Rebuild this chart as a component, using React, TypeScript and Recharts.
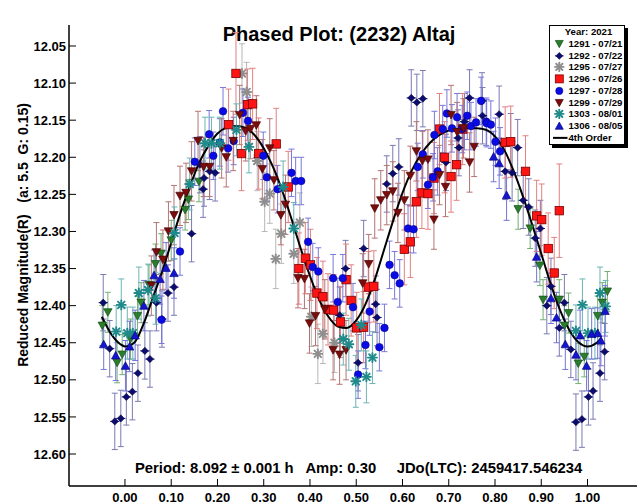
import React from 'react';
import { ComposedChart, Scatter, Line, XAxis, YAxis, ErrorBar, Legend, Customized } from 'recharts';

type P = [number, number, number?];

const FONT = '"Liberation Sans", Arial, Helvetica, sans-serif';

const X_DOMAIN: [number, number] = [-0.121, 1.107];
const Y_DOMAIN: [number, number] = [12.0217, 12.6431];
const X_TICKS = [0, 0.1, 0.2, 0.3, 0.4, 0.5, 0.6, 0.7, 0.8, 0.9, 1.0];
const Y_TICKS = [12.05, 12.1, 12.15, 12.2, 12.25, 12.3, 12.35, 12.4, 12.45, 12.5, 12.55, 12.6];

const TITLE = 'Phased Plot: (2232) Altaj';
const Y_LABEL = 'Reduced Magnitude(R)   (a: 5.5  G: 0.15)';
const INFO = 'Period: 8.092 \u00b1 0.001 h   Amp: 0.30     JDo(LTC): 2459417.546234';
const LEGEND_TITLE = 'Year: 2021';
const FIT_LABEL = '4th Order';

// 1291 - 07/21 (green, down triangle)
const PTS_1291: P[] = [
  [-0.049, 12.427], [-0.037, 12.409], [-0.017, 12.477], [-0.006, 12.466], [0.012, 12.445],
  [0.027, 12.414], [0.035, 12.396], [0.052, 12.372], [0.066, 12.344], [0.078, 12.33],
  [0.1, 12.312], [0.13, 12.271], [0.137, 12.257], [0.16, 12.233],
  [0.85, 12.27], [0.876, 12.296], [0.897, 12.346], [0.904, 12.392], [0.939, 12.392],
  [0.95, 12.427], [0.959, 12.41], [0.98, 12.478], [0.993, 12.469], [1.022, 12.414],
  [1.032, 12.396], [1.043, 12.381],
];

// 1292 - 07/22 (navy, diamond)
const PTS_1292: P[] = [
  [-0.047, 12.396], [-0.033, 12.458], [-0.022, 12.556], [-0.009, 12.552], [0.003, 12.523],
  [0.016, 12.516], [0.028, 12.491], [0.043, 12.461], [0.054, 12.472], [0.068, 12.396],
  [0.08, 12.418], [0.093, 12.383], [0.106, 12.375], [0.144, 12.303], [0.162, 12.21],
  [0.169, 12.243], [0.171, 12.228], [0.183, 12.219], [0.195, 12.221],
  [0.464, 12.413], [0.477, 12.35], [0.504, 12.477], [0.516, 12.323], [0.542, 12.398], [0.545, 12.416],
  [0.566, 12.236], [0.579, 12.222], [0.592, 12.213], [0.619, 12.12], [0.631, 12.126],
  [0.644, 12.121], [0.694, 12.207], [0.72, 12.174], [0.722, 12.187], [0.734, 12.152],
  [0.745, 12.12], [0.772, 12.124], [0.773, 12.144], [0.809, 12.142], [0.822, 12.219],
  [0.834, 12.179], [0.837, 12.221], [0.849, 12.187], [0.861, 12.258], [0.873, 12.267],
  [0.887, 12.309], [0.898, 12.296], [0.912, 12.4], [0.921, 12.374], [0.939, 12.43],
  [0.95, 12.396], [0.964, 12.459], [0.975, 12.557], [0.988, 12.553], [1.002, 12.523],
  [1.012, 12.515], [1.027, 12.491], [1.037, 12.462],
];

// 1295 - 07/27 (gray, asterisk)
const PTS_1295: P[] = [
  [0.253, 12.087], [0.263, 12.112], [0.286, 12.205], [0.302, 12.26], [0.313, 12.249],
  [0.326, 12.337], [0.338, 12.303], [0.365, 12.33], [0.378, 12.288], [0.403, 12.415],
  [0.417, 12.465], [0.428, 12.438], [0.453, 12.45],
];

// 1296 - 07/26 (red, square)
const PTS_1296: P[] = [
  [0.224, 12.156], [0.24, 12.087, 0.055], [0.252, 12.195, 0.05], [0.265, 12.129], [0.276, 12.128],
  [0.289, 12.195], [0.327, 12.182], [0.353, 12.24], [0.376, 12.35], [0.39, 12.336],
  [0.401, 12.345], [0.415, 12.383], [0.428, 12.388], [0.439, 12.405], [0.451, 12.406],
  [0.466, 12.422], [0.478, 12.365], [0.489, 12.393], [0.501, 12.43], [0.516, 12.429],
  [0.526, 12.375], [0.538, 12.374], [0.604, 12.324], [0.617, 12.314], [0.63, 12.26],
  [0.642, 12.248], [0.655, 12.249], [0.668, 12.228], [0.68, 12.162], [0.691, 12.2],
  [0.705, 12.226], [0.717, 12.21], [0.73, 12.162], [0.822, 12.18], [0.834, 12.179],
  [0.866, 12.219], [0.89, 12.279], [0.901, 12.284], [0.915, 12.323], [0.928, 12.356],
  [0.939, 12.272, 0.063],
];

// 1297 - 07/28 (blue, circle)
const PTS_1297: P[] = [
  [0.079, 12.419], [0.119, 12.327], [0.151, 12.206], [0.182, 12.169], [0.191, 12.198],
  [0.205, 12.18], [0.212, 12.138], [0.223, 12.188], [0.235, 12.178], [0.255, 12.14],
  [0.266, 12.151], [0.299, 12.198], [0.307, 12.227], [0.33, 12.243], [0.36, 12.221],
  [0.369, 12.232], [0.381, 12.232], [0.396, 12.314], [0.406, 12.348], [0.418, 12.354],
  [0.45, 12.363], [0.46, 12.395], [0.471, 12.363], [0.493, 12.402], [0.504, 12.493],
  [0.52, 12.453], [0.529, 12.408], [0.55, 12.456], [0.561, 12.43], [0.572, 12.345],
  [0.583, 12.359], [0.594, 12.37], [0.612, 12.296], [0.624, 12.297], [0.633, 12.213],
  [0.644, 12.196], [0.655, 12.237], [0.666, 12.227], [0.669, 12.17], [0.676, 12.219],
  [0.687, 12.162], [0.696, 12.141], [0.707, 12.161], [0.718, 12.146], [0.729, 12.162],
  [0.74, 12.144], [0.748, 12.158], [0.759, 12.153], [0.77, 12.124], [0.781, 12.152],
  [0.782, 12.154], [0.791, 12.156], [0.801, 12.179], [0.811, 12.192],
];

// 1299 - 07/29 (maroon, down triangle)
const PTS_1299: P[] = [
  [0.057, 12.373], [0.068, 12.328], [0.082, 12.338], [0.094, 12.3], [0.106, 12.278],
  [0.119, 12.252], [0.132, 12.248], [0.144, 12.219], [0.158, 12.178], [0.17, 12.213],
  [0.183, 12.213], [0.209, 12.188], [0.219, 12.2], [0.234, 12.178], [0.248, 12.143],
  [0.261, 12.165], [0.271, 12.162], [0.284, 12.157], [0.297, 12.216], [0.313, 12.188],
  [0.322, 12.231], [0.337, 12.278], [0.347, 12.264], [0.374, 12.363], [0.388, 12.364],
  [0.399, 12.424], [0.412, 12.414], [0.432, 12.405], [0.45, 12.46], [0.464, 12.466],
  [0.478, 12.46], [0.514, 12.37], [0.527, 12.344], [0.54, 12.269], [0.553, 12.258],
  [0.566, 12.251], [0.579, 12.246], [0.59, 12.275], [0.604, 12.258], [0.617, 12.225],
  [0.63, 12.192], [0.643, 12.205], [0.655, 12.203], [0.668, 12.284], [0.68, 12.224],
  [0.693, 12.24], [0.705, 12.143], [0.718, 12.166], [0.732, 12.161], [0.745, 12.207],
  [0.755, 12.186],
];

// 1303 - 08/01 (teal, asterisk)
const PTS_1303: P[] = [
  [-0.019, 12.435], [-0.008, 12.399], [0.005, 12.437], [0.017, 12.437], [0.03, 12.383],
  [0.05, 12.379], [0.066, 12.39], [0.107, 12.302], [0.14, 12.236], [0.173, 12.181],
  [0.187, 12.181], [0.205, 12.181], [0.241, 12.163], [0.268, 12.186], [0.342, 12.24],
  [0.365, 12.296], [0.472, 12.445], [0.484, 12.452], [0.499, 12.502], [0.511, 12.426],
  [0.522, 12.496], [0.535, 12.47], [0.975, 12.434], [0.989, 12.399], [1.001, 12.437],
  [1.016, 12.437], [1.027, 12.383], [1.039, 12.401],
];

// 1306 - 08/05 (blue, up triangle)
const PTS_1306: P[] = [
  [-0.046, 12.452], [-0.02, 12.467], [0.001, 12.481], [0.01, 12.455], [0.022, 12.44],
  [0.041, 12.4], [0.063, 12.359], [0.076, 12.364], [0.089, 12.349], [0.106, 12.356],
  [0.797, 12.199], [0.809, 12.208], [0.825, 12.251], [0.89, 12.334], [0.921, 12.39],
  [0.933, 12.416], [0.952, 12.452], [0.975, 12.466], [0.984, 12.44], [0.998, 12.481],
  [1.009, 12.438], [1.022, 12.437], [1.029, 12.447], [1.038, 12.407],
];

// 4th order Fourier fit
const FIT: [number, number][] = [
  [-0.05, 12.415], [-0.03, 12.438], [-0.01, 12.452], [0.0, 12.455], [0.02, 12.45],
  [0.04, 12.425], [0.06, 12.39], [0.08, 12.355], [0.1, 12.315], [0.12, 12.275],
  [0.14, 12.24], [0.16, 12.208], [0.18, 12.185], [0.2, 12.168], [0.22, 12.16],
  [0.24, 12.158], [0.26, 12.16], [0.28, 12.17], [0.3, 12.188], [0.32, 12.213],
  [0.34, 12.245], [0.36, 12.283], [0.38, 12.323], [0.4, 12.36], [0.42, 12.392],
  [0.44, 12.415], [0.46, 12.428], [0.48, 12.43], [0.5, 12.42], [0.52, 12.398],
  [0.54, 12.365], [0.56, 12.325], [0.58, 12.285], [0.6, 12.248], [0.62, 12.218],
  [0.64, 12.196], [0.66, 12.18], [0.68, 12.17], [0.7, 12.164], [0.72, 12.162],
  [0.74, 12.161], [0.76, 12.161], [0.78, 12.163], [0.8, 12.172], [0.82, 12.19],
  [0.84, 12.218], [0.86, 12.252], [0.88, 12.29], [0.9, 12.33], [0.92, 12.37],
  [0.94, 12.405], [0.96, 12.432], [0.98, 12.449], [1.0, 12.455], [1.02, 12.45],
  [1.03, 12.444],
];

type Kind = 'down' | 'up' | 'diamond' | 'square' | 'circle' | 'star';

const SERIES: { label: string; pts: P[]; err: number; kind: Kind; fill: string; stroke: string; bar: string }[] = [
  { label: '1291 - 07/21', pts: PTS_1291, err: 0.027, kind: 'down', fill: '#2a7d2a', stroke: '#14501a', bar: '#74b074' },
  { label: '1292 - 07/22', pts: PTS_1292, err: 0.038, kind: 'diamond', fill: '#0c0c70', stroke: '#05053a', bar: '#7a7ab4' },
  { label: '1295 - 07/27', pts: PTS_1295, err: 0.04, kind: 'star', fill: '#8e8e8e', stroke: '#8e8e8e', bar: '#b8b8b8' },
  { label: '1296 - 07/26', pts: PTS_1296, err: 0.048, kind: 'square', fill: '#ff1414', stroke: '#7a0000', bar: '#e48080' },
  { label: '1297 - 07/28', pts: PTS_1297, err: 0.032, kind: 'circle', fill: '#0a0ae6', stroke: '#06068a', bar: '#7878da' },
  { label: '1299 - 07/29', pts: PTS_1299, err: 0.04, kind: 'down', fill: '#7a0c0c', stroke: '#4a0505', bar: '#b67474' },
  { label: '1303 - 08/01', pts: PTS_1303, err: 0.035, kind: 'star', fill: '#1f8a8a', stroke: '#1f8a8a', bar: '#6cb4b4' },
  { label: '1306 - 08/05', pts: PTS_1306, err: 0.034, kind: 'up', fill: '#1414d2', stroke: '#08087a', bar: '#7474d8' },
];

function Marker({ kind, cx, cy, fill, stroke, s = 1 }: { kind: Kind; cx: number; cy: number; fill: string; stroke: string; s?: number }) {
  if (cx == null || cy == null || isNaN(cx) || isNaN(cy)) return <g />;
  switch (kind) {
    case 'down':
      return <path d={`M${cx - 4.2 * s},${cy - 3.6 * s}L${cx + 4.2 * s},${cy - 3.6 * s}L${cx},${cy + 4 * s}Z`} fill={fill} stroke={stroke} strokeWidth={0.7} />;
    case 'up':
      return <path d={`M${cx - 4.2 * s},${cy + 3.6 * s}L${cx + 4.2 * s},${cy + 3.6 * s}L${cx},${cy - 4 * s}Z`} fill={fill} stroke={stroke} strokeWidth={0.7} />;
    case 'diamond':
      return (
        <g>
          <path d={`M${cx},${cy - 3.6 * s}L${cx + 3.6 * s},${cy}L${cx},${cy + 3.6 * s}L${cx - 3.6 * s},${cy}Z`} fill={fill} stroke={stroke} strokeWidth={0.6} />
          <line x1={cx - 4.6 * s} y1={cy} x2={cx + 4.6 * s} y2={cy} stroke={fill} strokeWidth={1} />
        </g>
      );
    case 'square':
      return <rect x={cx - 4.2 * s} y={cy - 4.2 * s} width={8.4 * s} height={8.4 * s} fill={fill} stroke={stroke} strokeWidth={0.8} />;
    case 'circle':
      return <circle cx={cx} cy={cy} r={3.8 * s} fill={fill} stroke={stroke} strokeWidth={0.6} />;
    case 'star':
    default:
      return (
        <g stroke={fill} strokeWidth={1.9} strokeLinecap="round">
          <line x1={cx - 4.5 * s} y1={cy} x2={cx + 4.5 * s} y2={cy} />
          <line x1={cx} y1={cy - 4.5 * s} x2={cx} y2={cy + 4.5 * s} />
          <line x1={cx - 3.3 * s} y1={cy - 3.3 * s} x2={cx + 3.3 * s} y2={cy + 3.3 * s} />
          <line x1={cx - 3.3 * s} y1={cy + 3.3 * s} x2={cx + 3.3 * s} y2={cy - 3.3 * s} />
        </g>
      );
  }
}

const toRows = (pts: P[], err: number) => pts.map((p) => ({ x: p[0], y: p[1], e: p[2] ?? err }));
const FIT_ROWS = FIT.map((p) => ({ x: p[0], y: p[1] }));

const ROW_H = 11.75;

const LegendBox = () => (
  <div
    style={{
      width: 74,
      height: ROW_H * 10,
      border: '1px solid #000',
      background: '#fff',
      boxShadow: '3px 3px 0 #000',
      fontFamily: FONT,
      fontWeight: 'bold',
      fontSize: 9.6,
      color: '#000',
      boxSizing: 'content-box',
      overflow: 'hidden',
    }}
  >
    <div style={{ height: ROW_H, lineHeight: `${ROW_H}px`, textAlign: 'center', paddingLeft: 3 }}>{LEGEND_TITLE}</div>
    {SERIES.map((s) => (
      <div key={s.label} style={{ height: ROW_H, display: 'flex', alignItems: 'center', whiteSpace: 'nowrap' }}>
        <svg width={18.5} height={ROW_H} style={{ display: 'block', flex: 'none' }}>
          <Marker kind={s.kind} cx={9.3} cy={ROW_H / 2} fill={s.fill} stroke={s.stroke} s={0.95} />
        </svg>
        <span style={{ lineHeight: `${ROW_H}px` }}>{s.label}</span>
      </div>
    ))}
    <div style={{ height: ROW_H, display: 'flex', alignItems: 'center', whiteSpace: 'nowrap' }}>
      <svg width={18.5} height={ROW_H} style={{ display: 'block', flex: 'none' }}>
        <line x1={3} y1={ROW_H / 2} x2={17.5} y2={ROW_H / 2} stroke="#000" strokeWidth={2} />
      </svg>
      <span style={{ lineHeight: `${ROW_H}px` }}>{FIT_LABEL}</span>
    </div>
  </div>
);

const Annotations = () => (
  <g fontFamily={FONT} fontWeight="bold" fill="#000">
    <text x={339} y={41} fontSize={20} textAnchor="middle">{TITLE}</text>
    <text x={135} y={473} fontSize={14.8} xmlSpace="preserve" style={{ whiteSpace: 'pre' }}>{INFO}</text>
    <text
      x={28}
      y={235}
      fontSize={14}
      textAnchor="middle"
      transform="rotate(-90 28 235)"
      xmlSpace="preserve"
      style={{ whiteSpace: 'pre' }}
    >
      {Y_LABEL}
    </text>
  </g>
);

const tickStyle = { fontFamily: FONT, fontWeight: 'bold' as const, fontSize: 13, fill: '#000' };

export default function App() {
  return (
    <div style={{ position: 'absolute', left: 0, top: 0, width: 644, height: 504, background: '#fff' }}>
      <ComposedChart width={644} height={504} margin={{ top: 25, right: 7, bottom: 0, left: 0 }}>
        <XAxis
          dataKey="x"
          type="number"
          domain={X_DOMAIN}
          ticks={X_TICKS}
          interval={0}
          allowDataOverflow
          height={18}
          tickFormatter={(v: number) => v.toFixed(2)}
          tick={tickStyle}
          tickSize={-7}
          tickMargin={14}
          axisLine={{ stroke: '#000', strokeWidth: 1.5 }}
          tickLine={{ stroke: '#000', strokeWidth: 1 }}
        />
        <XAxis
          xAxisId="top"
          orientation="top"
          type="number"
          domain={X_DOMAIN}
          allowDataOverflow
          height={0}
          tick={false}
          tickLine={false}
          axisLine={{ stroke: '#000', strokeWidth: 1.5 }}
        />
        <YAxis
          dataKey="y"
          type="number"
          domain={Y_DOMAIN}
          ticks={Y_TICKS}
          interval={0}
          reversed
          allowDataOverflow
          width={69}
          tickFormatter={(v: number) => v.toFixed(2)}
          tick={tickStyle}
          tickSize={-7}
          tickMargin={10}
          axisLine={{ stroke: '#000', strokeWidth: 1.5 }}
          tickLine={{ stroke: '#000', strokeWidth: 1 }}
        />
        <YAxis
          yAxisId="right"
          orientation="right"
          type="number"
          domain={Y_DOMAIN}
          ticks={Y_TICKS}
          interval={0}
          reversed
          allowDataOverflow
          width={0}
          tick={false}
          tickSize={-7}
          axisLine={{ stroke: '#000', strokeWidth: 1.5 }}
          tickLine={{ stroke: '#000', strokeWidth: 1 }}
        />
        {SERIES.map((s) => (
          <Scatter
            key={s.label}
            name={s.label}
            data={toRows(s.pts, s.err)}
            isAnimationActive={false}
            shape={(p: any) => <Marker kind={s.kind} cx={p.cx} cy={p.cy} fill={s.fill} stroke={s.stroke} />}
          >
            <ErrorBar dataKey="e" direction="y" width={3} stroke={s.bar} strokeWidth={1} />
          </Scatter>
        ))}
        <Line
          data={FIT_ROWS}
          dataKey="y"
          type="monotone"
          stroke="#000"
          strokeWidth={2}
          dot={false}
          activeDot={false}
          isAnimationActive={false}
        />
        <Customized component={Annotations} />
        <Legend
          content={LegendBox}
          layout="horizontal"
          verticalAlign="middle"
          align="center"
          wrapperStyle={{ left: 549, top: 25, width: 'auto', height: 'auto' }}
        />
      </ComposedChart>
    </div>
  );
}
